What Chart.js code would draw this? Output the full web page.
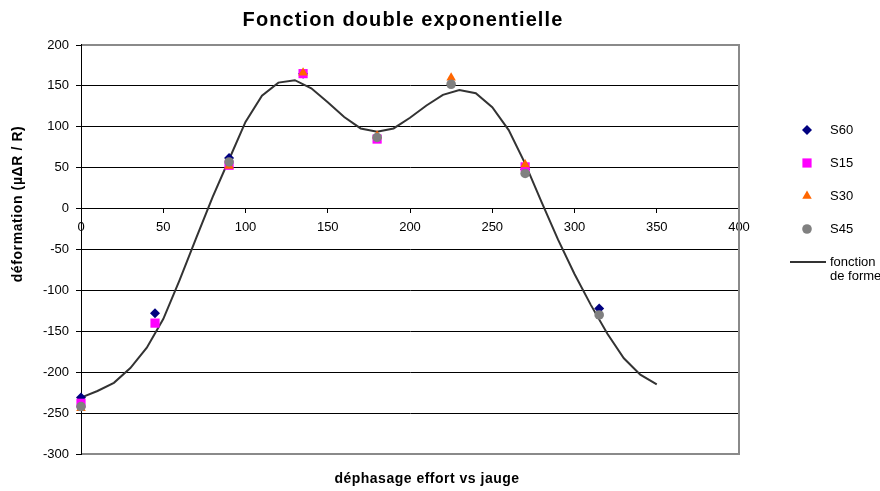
<!DOCTYPE html>
<html>
<head>
<meta charset="utf-8">
<script src="https://cdn.jsdelivr.net/npm/chart.js@4/dist/chart.umd.min.js"></script>
<style>
html,body{margin:0;padding:0;background:#fff;}
#wrap{width:880px;height:491px;position:relative;}
</style>
</head>
<body>
<div id="wrap"><canvas id="c" width="880" height="491"></canvas></div>
<script>
// ---- data ----
const titleText = 'Fonction double exponentielle';
const xAxisTitle = 'déphasage effort vs jauge';
const yAxisTitle = 'déformation (µΔR / R)';

const shapeX = [0,10,20,30,40,50,60,70,80,90,100,110,120,130,140,150,160,170,180,190,200,210,220,230,240,250,260,270,280,290,300,310,320,330,340,350];
const shapeY = [-231,-223,-213,-195,-170,-135,-87,-36,14,60,106,138,154,157,147,130,112,98,94,98,111,126,139,145,141,124,96,55,8,-38,-80,-118,-153,-183,-203,-215];

const s60X = [0,45,90,135,270,315];
const s60Y = [-231,-128,62,165,48,-122];
const s15X = [0,45,90,135,180,270];
const s15Y = [-238,-140,53,165,85,51];
const s30X = [0,90,135,180,225,270];
const s30Y = [-244,52,166,89,160,54];
const s45X = [0,90,180,225,270,315];
const s45Y = [-242,57,87,152,43,-130];

const xTicks = [0,50,100,150,200,250,300,350,400];
const yTicks = [-300,-250,-200,-150,-100,-50,0,50,100,150,200];

const seriesNames = ['S60','S15','S30','S45','fonction de forme'];
// ---- build ----
const pts = (xs, ys) => xs.map((x, i) => ({x: x, y: ys[i]}));
const FONT = "'Liberation Sans', Arial, sans-serif";

const legendItems = [
  {label:['S60'], style:'rectRot', color:'#000080', r:5},
  {label:['S15'], style:'rect', color:'#FF00FF', r:6.5},
  {label:['S30'], style:'triangle', color:'#FF6600', r:5.5},
  {label:['S45'], style:'circle', color:'#808080', r:4.8},
  {label:['fonction','de forme'], style:'line', color:'#333333'}
];

function spaced(ctx, px) { try { ctx.letterSpacing = px + 'px'; } catch (e) {} }

const customDraw = {
  id: 'customDraw',
  beforeDatasetsDraw(chart) {
    const {ctx, chartArea: a} = chart;
    ctx.save();
    ctx.strokeStyle = '#8a8a8a';
    ctx.lineWidth = 2;
    ctx.beginPath();
    const top = Math.round(a.top), bot = Math.round(a.bottom), right = Math.round(a.right);
    ctx.moveTo(a.left, top); ctx.lineTo(right, top); ctx.lineTo(right, bot); ctx.lineTo(a.left, bot);
    ctx.stroke();
    ctx.strokeStyle = '#000';
    ctx.lineWidth = 1;
    ctx.beginPath();
    const lx = Math.round(a.left) + 0.5;
    ctx.moveTo(lx, top - 1); ctx.lineTo(lx, bot + 1);
    ctx.stroke();
    ctx.restore();
  },
  afterDraw(chart) {
    const {ctx} = chart;
    ctx.save();
    ctx.fillStyle = '#000';
    ctx.font = 'bold 20px ' + FONT;
    spaced(ctx, 1.1);
    ctx.textAlign = 'center';
    ctx.textBaseline = 'alphabetic';
    ctx.fillText(titleText, 403, 26);
    ctx.font = 'bold 14px ' + FONT;
    spaced(ctx, 0.5);
    ctx.textBaseline = 'middle';
    ctx.fillText(xAxisTitle, 427, 479);
    spaced(ctx, 0.6);
    ctx.translate(18, 204);
    ctx.rotate(-Math.PI / 2);
    ctx.fillText(yAxisTitle, 0, 0);
    ctx.restore();
    ctx.save();
    const ys = [130, 163, 196, 229, 262];
    legendItems.forEach((it, i) => {
      const y = ys[i];
      if (it.style === 'line') {
        ctx.strokeStyle = it.color;
        ctx.lineWidth = 2;
        ctx.beginPath(); ctx.moveTo(790, y); ctx.lineTo(826, y); ctx.stroke();
      } else {
        ctx.save();
        ctx.fillStyle = it.color;
        ctx.strokeStyle = it.color;
        Chart.helpers.drawPoint(ctx, {pointStyle: it.style, radius: it.r, borderWidth: 0}, 807, y);
        ctx.restore();
      }
      ctx.fillStyle = '#000';
      ctx.font = '13px ' + FONT;
      ctx.textAlign = 'left';
      ctx.textBaseline = 'middle';
      it.label.forEach((t, j) => ctx.fillText(t, 830, y + j * 14.5));
    });
    ctx.restore();
  }
};

const mk = (label, xs, ys, style, color, r, order) => ({
  label, data: pts(xs, ys), pointStyle: style, pointRadius: r, pointHoverRadius: r,
  backgroundColor: color, borderColor: color, pointBackgroundColor: color, pointBorderColor: color,
  pointBorderWidth: 0, showLine: false, order, clip: false
});

new Chart(document.getElementById('c'), {
  type: 'scatter',
  data: {
    datasets: [
      mk(seriesNames[0], s60X, s60Y, 'rectRot', '#000080', 5, 4),
      mk(seriesNames[1], s15X, s15Y, 'rect', '#FF00FF', 6.5, 3),
      mk(seriesNames[2], s30X, s30Y, 'triangle', '#FF6600', 5.5, 2),
      mk(seriesNames[3], s45X, s45Y, 'circle', '#808080', 4.8, 1),
      {label: seriesNames[4], data: pts(shapeX, shapeY), showLine: true, pointRadius: 0,
       borderColor: '#333333', borderWidth: 2, tension: 0, order: 5, backgroundColor: '#333333', clip: false}
    ]
  },
  options: {
    responsive: false,
    animation: false,
    events: [],
    layout: {padding: {top: 45, left: 0, right: 141, bottom: 37}},
    plugins: {
      legend: {display: false},
      tooltip: {enabled: false},
      title: {display: false}
    },
    scales: {
      x: {
        type: 'linear', min: 0, max: 400,
        position: {y: 0},
        afterBuildTicks: s => { s.ticks = xTicks.map(v => ({value: v})); },
        ticks: {color: '#000', font: {family: FONT, size: 13}, padding: 7, maxRotation: 0},
        grid: {drawOnChartArea: false, drawTicks: true, tickLength: 4, color: '#000'},
        border: {display: true, color: '#000', width: 1}
      },
      y: {
        type: 'linear', min: -300, max: 200,
        afterBuildTicks: s => { s.ticks = yTicks.map(v => ({value: v})); },
        afterFit: s => { s.width = 81; },
        ticks: {color: '#000', font: {family: FONT, size: 13}, padding: 7},
        grid: {color: '#000', lineWidth: 1, tickLength: 5, drawTicks: true},
        border: {display: true, color: '#000', width: 1}
      }
    }
  },
  plugins: [customDraw]
});
</script>
</body>
</html>
